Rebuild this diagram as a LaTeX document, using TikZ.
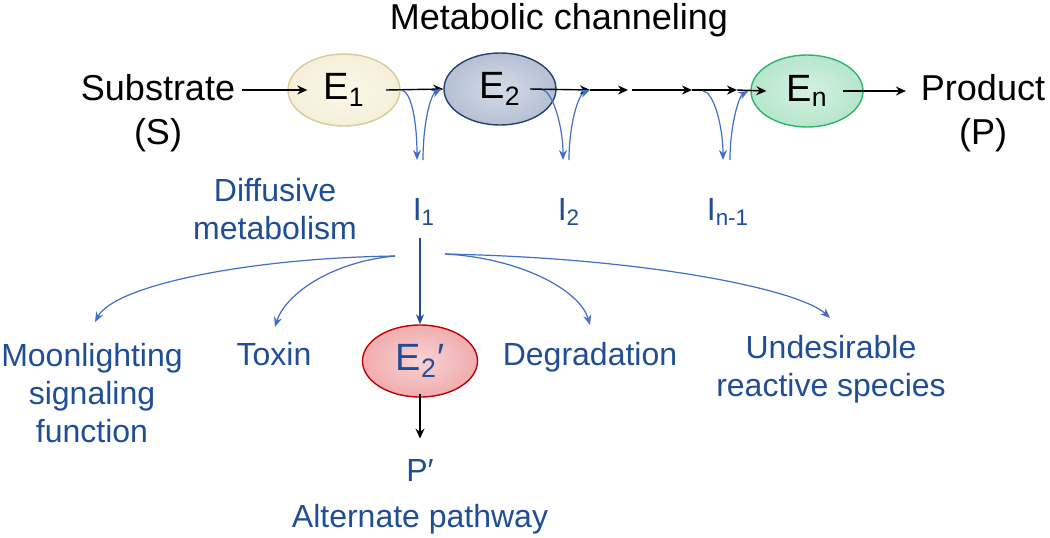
\documentclass[tikz,border=0pt]{standalone}
\usepackage{fontspec}
\setmainfont{Liberation Sans}
\usetikzlibrary{arrows.meta,shapes.geometric}
\definecolor{txtblue}{HTML}{1F4E96}
\definecolor{arrblue}{HTML}{3F6FC6}
\definecolor{ylwfill}{HTML}{FBF8E8}
\definecolor{ylwrim}{HTML}{D8CB98}
\definecolor{navfill}{HTML}{D5DCE8}
\definecolor{navrim}{HTML}{24406F}
\definecolor{grnfill}{HTML}{D4F1E1}
\definecolor{grnrim}{HTML}{2BB56A}
\definecolor{redfill}{HTML}{FAD2D4}
\definecolor{redrim}{HTML}{C00000}
\tikzset{
  enz/.style={ellipse, draw=#1rim, line width=0.7pt, inner color=#1fill,
    outer color=#1rim!18!#1fill, minimum width=56pt, minimum height=36pt,
    inner sep=0pt, font=\fontsize{19}{22}\selectfont},
  blk/.style={font=\fontsize{18}{22}\selectfont, align=center},
  blu/.style={text=txtblue, font=\fontsize{16}{19}\selectfont, align=center, inner sep=2pt},
  flow/.style={-{Stealth[length=5pt,width=4.5pt]}, line width=0.7pt},
  side/.style={arrblue, -{Stealth[length=5pt,width=4pt]}, line width=0.6pt},
}
\begin{document}
\begin{tikzpicture}[x=0.5pt,y=-0.5pt]
\useasboundingbox (0,0) rectangle (1050,537);
% main channel
\node[blk] (title) at (559,20) {Metabolic channeling};
\node[blk] (sub) at (158,113) {Substrate\\(S)};
\node[blk] (prod) at (983,113) {Product\\(P)};
\node[enz=ylw] (e1) at (344,90) {E\textsubscript{1}};
\node[enz=nav] (e2) at (500,89) {E\textsubscript{2}};
\node[enz=grn] (en) at (807,91) {E\textsubscript{n}};
\coordinate (m1) at (590,90);
\coordinate (m2) at (628,90);
\coordinate (m3) at (632,90);
\coordinate (m4) at (692,90);
\coordinate (m5) at (737,90);
\draw[flow] (sub.east |- e1.center) -- ([xshift=10pt]e1.west);
\draw[flow] ([xshift=21pt]e1.center) -- (e2.west);
\draw[flow] ([xshift=15pt]e2.center) -- (m1);
\draw[flow] (m1) -- (m2);
\draw[flow] (m3) -- (m4);
\draw[flow] (m4) -- (m5);
\draw[flow] (m5) -- ([xshift=8pt]en.west);
\draw[flow] ([xshift=18pt]en.center) -- ([xshift=-4pt]prod.west |- en.center);
% intermediates
\node[blu] (diff) at (275,174) [anchor=north] {Diffusive\\metabolism};
\node[blu] (i1) at (424,212) {I\textsubscript{1}};
\node[blu] (i2) at (569,212) {I\textsubscript{2}};
\node[blu] (in) at (728,212) {I\textsubscript{n-1}};
\coordinate (d1) at (417,160);
\coordinate (u1) at (423,160);
\coordinate (d2) at (563,160);
\coordinate (u2) at (569,160);
\coordinate (d3) at (723,160);
\coordinate (u3) at (730,160);
\draw[side] (e1.east) .. controls (412,90) and (417,125) .. (d1);
\draw[side] (u1) .. controls (423,125) and (430,95) .. ([xshift=-1pt]e2.west);
\draw[side] (542,90) .. controls (552,90) and (563,125) .. (d2);
\draw[side] (u2) .. controls (569,125) and (578,95) .. (m1);
\draw[side] (703,91) .. controls (713,91) and (723,125) .. (d3);
\draw[side] (u3) .. controls (730,125) and (739,96) .. ([xshift=-1pt]en.west);
% fates of I1
\node[enz=red, text=txtblue, minimum width=57.5pt] (e2p) at (420,361) {E\textsubscript{2}′};
\node[blu, anchor=north] (moon) at (92,339) {Moonlighting\\signaling\\function};
\node[blu, anchor=base] (toxin) at (274,365) {Toxin};
\node[blu, anchor=base] (degr) at (590,365) {Degradation};
\node[blu, anchor=north] (undes) at (831,331) {Undesirable\\reactive species};
\node[blu, anchor=base] (pp) at (420,481) {P′};
\node[blu, anchor=base] (alt) at (420,527) {Alternate pathway};
\coordinate (fl) at (395,256);
\coordinate (fr) at (445,254);
\draw[side, txtblue] (e2p.north |- i1.south) ++(0,8) -- (e2p.north);
\draw[side] (fl) .. controls (250,258) and (115,285) .. (95,322);
\draw[side] (fl) .. controls (330,262) and (285,295) .. (275,327);
\draw[side] (fr) .. controls (520,258) and (580,290) .. (590,325);
\draw[side] (fr) .. controls (650,258) and (800,290) .. (830,318);
\draw[flow] ([yshift=2pt]e2p.south) -- ([yshift=8pt]pp.north);
\end{tikzpicture}
\end{document}
